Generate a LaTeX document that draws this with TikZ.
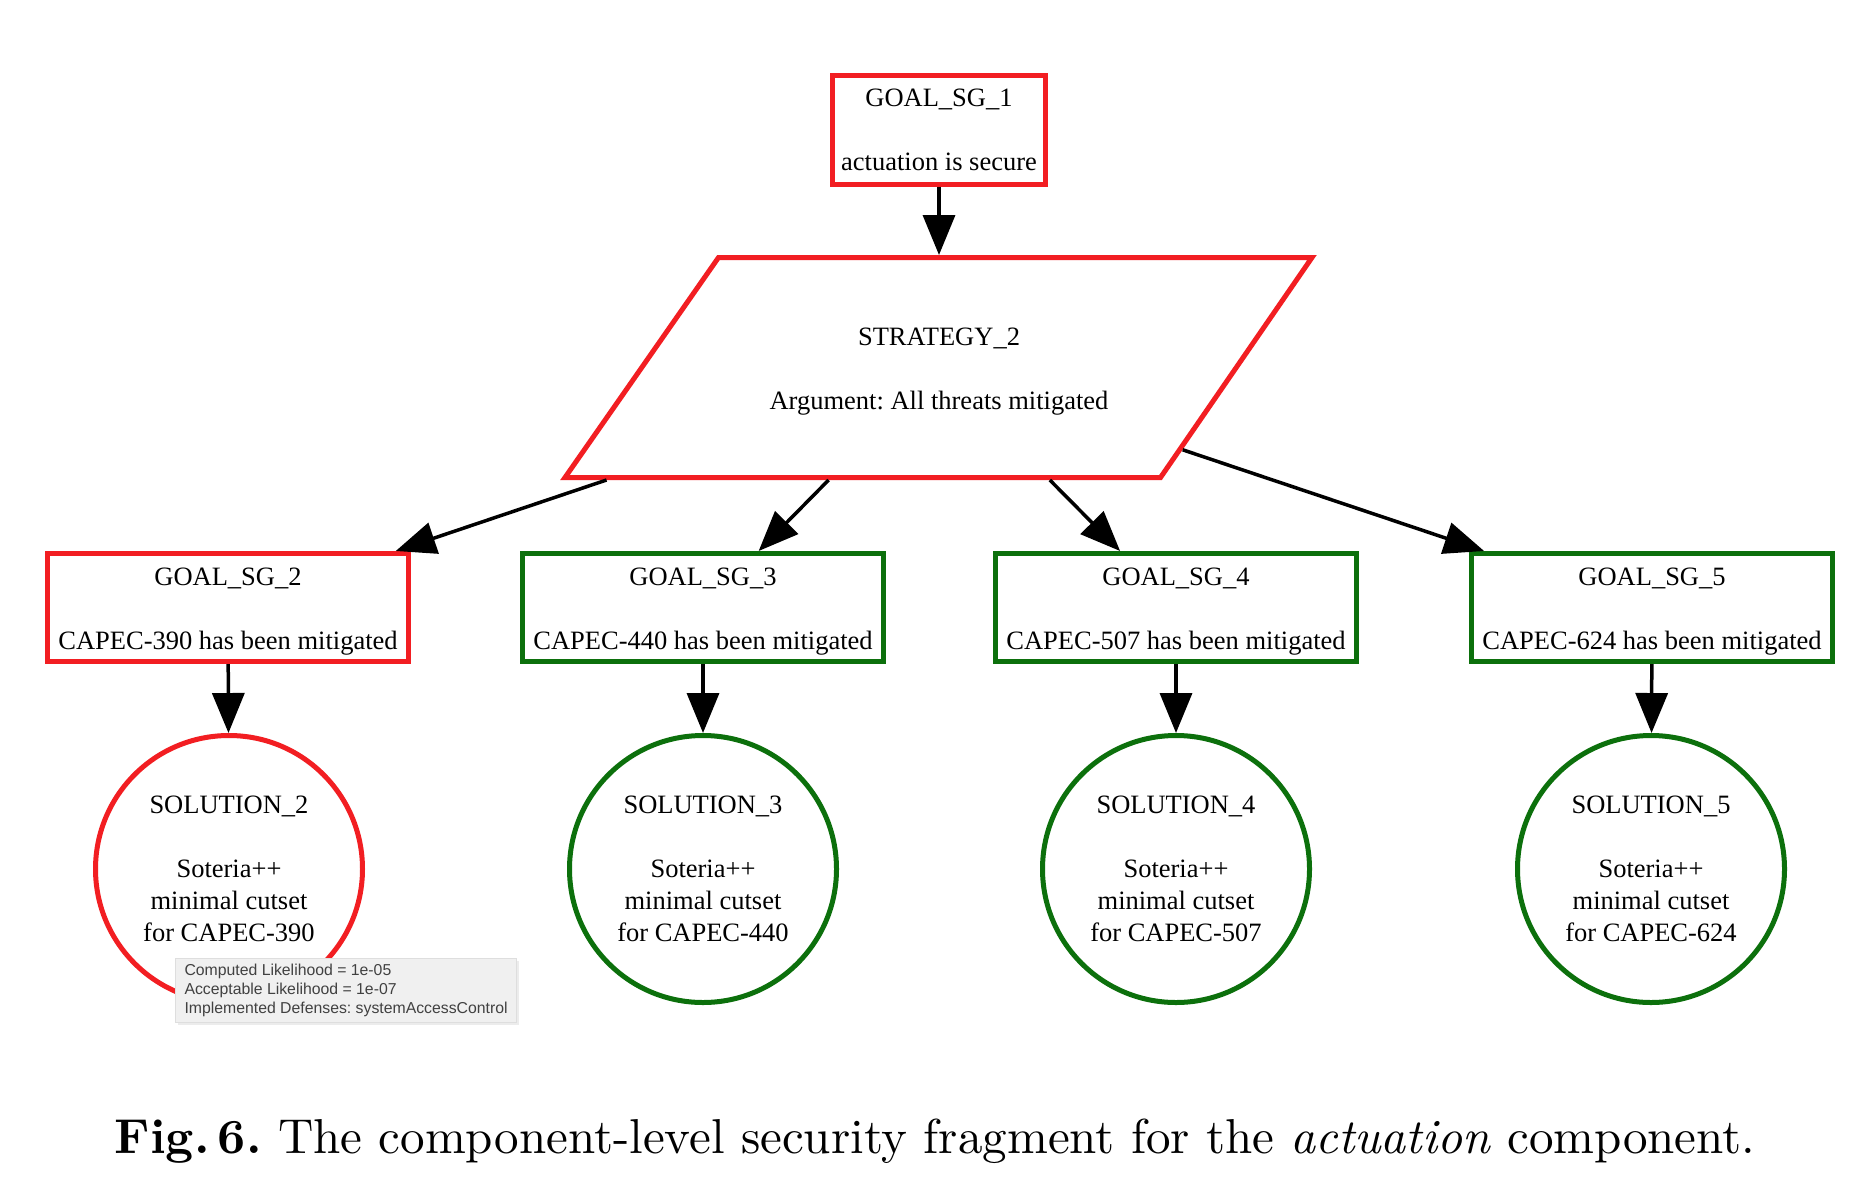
\documentclass[tikz,border=0pt]{standalone}
\usepackage{fontspec}
\newfontfamily\gvfont{Liberation Serif}
\newfontfamily\tipfont{Liberation Sans}
\usetikzlibrary{shapes.geometric,arrows.meta,shadows}
\definecolor{gvred}{RGB}{242,30,34}
\definecolor{gvgreen}{RGB}{12,112,12}
\definecolor{tipfill}{RGB}{240,240,240}
\definecolor{tipdraw}{RGB}{222,222,222}
\definecolor{tiptext}{RGB}{65,65,65}
\newcommand{\gstrut}{\rule{0pt}{25pt}}
\begin{document}
\frenchspacing
\begin{tikzpicture}[x=1pt,y=-1pt,
  gvtext/.style={font=\gvfont\fontsize{26.5}{32}\selectfont, align=center, inner sep=0pt},
  goalbox/.style={gvtext, draw, rectangle, line width=5pt, minimum width=361pt, minimum height=108pt},
  goalred/.style={goalbox, draw=gvred},
  goalgreen/.style={goalbox, draw=gvgreen},
  stratshape/.style={draw=gvred, line width=5pt, line join=miter},
  solbox/.style={gvtext, draw, circle, line width=5pt, minimum size=267pt},
  solred/.style={solbox, draw=gvred},
  solgreen/.style={solbox, draw=gvgreen},
  conn/.style={line width=3.5pt, -{Triangle[length=40pt,width=32pt]}},
  tipbox/.style={draw=tipdraw, fill=tipfill, line width=1pt, drop shadow={opacity=0.15, shadow xshift=2pt, shadow yshift=-3pt},
    font=\tipfont\fontsize{15.8}{19}\selectfont, text=tiptext, align=left, inner xsep=9pt, inner ysep=0pt, minimum width=340pt, minimum height=64pt, anchor=west}
]
\useasboundingbox (0,0) rectangle (1859,1188);
\fill[white] (0,0) rectangle (1859,1188);

% top goal
\node[goalred, minimum width=213pt] (g1) at (939,130) {GOAL\_SG\_1\\[32pt]actuation is secure};

% strategy parallelogram
\coordinate (stTL) at (718.5,257.5);
\coordinate (stTR) at (1312,257.5);
\coordinate (stBR) at (1160.5,477.5);
\coordinate (stBL) at (565,477.5);
\draw[stratshape] (stTL) -- (stTR) -- (stBR) -- (stBL) -- cycle;
\node[gvtext] (st) at (939,372) {STRATEGY\_2\\[32pt]Argument: All threats mitigated};
\coordinate (sttop) at (939,255);
\coordinate (e2) at (606.5,480);
\coordinate (e3) at (828.6,480);
\coordinate (e4) at (1049.8,480);
\coordinate (e5) at (1182.7,449.8);

% goals
\node[goalred]   (g2) at (228,607.5)  {\gstrut GOAL\_SG\_2\\[32pt]CAPEC-390 has been mitigated};
\node[goalgreen] (g3) at (703,607.5)  {\gstrut GOAL\_SG\_3\\[32pt]CAPEC-440 has been mitigated};
\node[goalgreen] (g4) at (1176,607.5) {\gstrut GOAL\_SG\_4\\[32pt]CAPEC-507 has been mitigated};
\node[goalgreen] (g5) at (1652,607.5) {\gstrut GOAL\_SG\_5\\[32pt]CAPEC-624 has been mitigated};

% solutions
\node[solred]   (s2) at (229,869)  {SOLUTION\_2\\[32pt]Soteria++\\minimal cutset\\for CAPEC-390};
\node[solgreen] (s3) at (703,869)  {SOLUTION\_3\\[32pt]Soteria++\\minimal cutset\\for CAPEC-440};
\node[solgreen] (s4) at (1176,869) {SOLUTION\_4\\[32pt]Soteria++\\minimal cutset\\for CAPEC-507};
\node[solgreen] (s5) at (1651,869) {SOLUTION\_5\\[32pt]Soteria++\\minimal cutset\\for CAPEC-624};

% connectors
\draw[conn] (g1) -- (sttop);
\draw[conn] (e2) -- (g2);
\draw[conn] (e3) -- (g3);
\draw[conn] (e4) -- (g4);
\draw[conn] (e5) -- (g5);
\draw[conn] (g2) -- (s2);
\draw[conn] (g3) -- (s3);
\draw[conn] (g4) -- (s4);
\draw[conn] (g5) -- (s5);

% tooltip
\node[tipbox] (tip) at (175,990) {Computed Likelihood = 1e-05\\Acceptable Likelihood = 1e-07\\Implemented Defenses: systemAccessControl};

% caption
\node[inner sep=0pt] (cap) at (935,1141) {\resizebox{1640pt}{!}{\textbf{Fig.\,6.} The component-level security fragment for the \emph{actuation} component.}};
\end{tikzpicture}
\end{document}
